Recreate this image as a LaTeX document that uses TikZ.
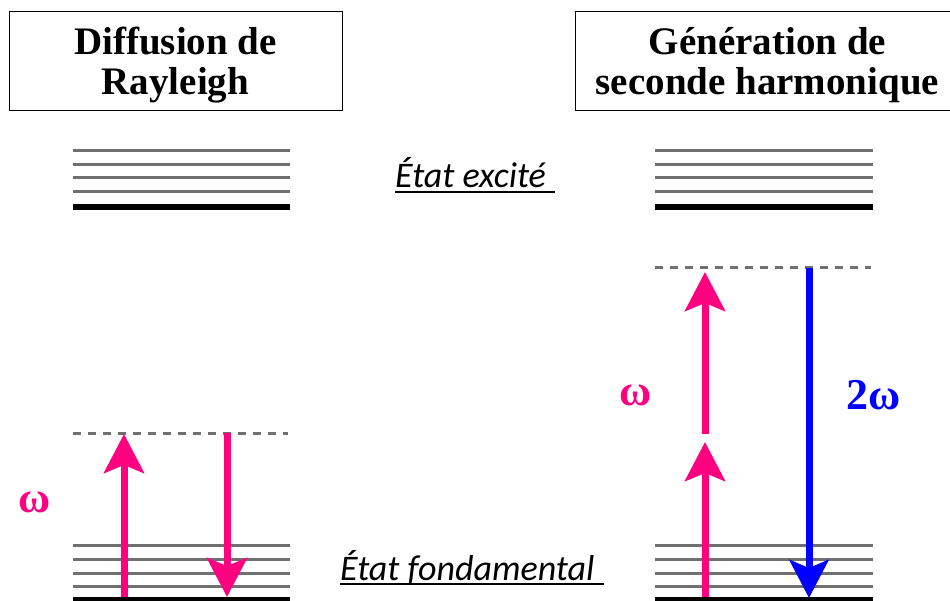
\documentclass[tikz,border=0pt]{standalone}
\usepackage{fontspec}
\setmainfont{Liberation Serif}
\newfontfamily\statefont{Carlito}
\usetikzlibrary{arrows.meta}

\definecolor{pinkw}{RGB}{255,0,128}
\definecolor{bluew}{RGB}{0,0,255}
\definecolor{levelgrey}{RGB}{112,112,112}

\begin{document}
\begin{tikzpicture}[
            x = 1pt, y = -1pt, % pixel grid, y pointing down
            > = {Stealth[length=39pt, width=40pt, inset=8pt]}, % arrow head style
            titlebox/.style = {draw = black, thick, inner sep = 0pt},
            titletext/.style = {inner sep = 0pt, align = center,
                font = \fontsize{39}{40}\selectfont\bfseries},
            statelabel/.style = {inner sep = 0pt, anchor = base west,
                font = \statefont\itshape\fontsize{36}{40}\selectfont},
            sublevel/.style = {draw = levelgrey, line width = 3pt},
            mainlevel/.style = {draw = black, line width = 5.5pt},
            virtual/.style = {draw = levelgrey, line width = 3pt,
                dash pattern = on 8pt off 7pt},
            photon/.style = {->, line width = 7pt},
            freq/.style = {font = \fontsize{44}{44}\selectfont\bfseries}
        ]

        \useasboundingbox (0,0) rectangle (950,601);
        \clip (0,0) rectangle (950,601);

        % titles
        \node[titlebox, minimum width = 333pt, minimum height = 99pt]
            (rayl) at (175.5,60.5) {};
        \node[titlebox, minimum width = 385pt, minimum height = 99pt]
            (shg) at (767.5,60.5) {};
        \node[titletext] (raylt) at ([yshift=-5pt]rayl.center) {Diffusion de\\Rayleigh};
        \node[titletext] (shgt) at ([yshift=-5pt]shg.center) {Génération de\\seconde harmonique};

        % energy levels
        \foreach \xa/\xb in {73/290, 655/873} {
            \foreach \y in {151,165,178,192}
                \draw[sublevel] (\xa,\y) -- (\xb,\y);
            \draw[mainlevel] (\xa,207) -- (\xb,207);
            \foreach \y in {545,559,573,586}
                \draw[sublevel] (\xa,\y) -- (\xb,\y);
            \draw[mainlevel] (\xa,600) -- (\xb,600);
        }
        \draw[virtual] (73,433) -- (288,433);
        \draw[virtual] (655,268) -- (871,268);

        % state labels
        \node[statelabel] (exc) at (395,188) {État excité};
        \node[statelabel] (fond) at (340,580) {État fondamental};
        \draw[line width = 2.5pt] ([yshift=-4pt]exc.base west) -- ([yshift=-4pt, xshift=9pt]exc.base east);
        \draw[line width = 2.5pt] ([yshift=-4pt]fond.base west) -- ([yshift=-4pt, xshift=9pt]fond.base east);

        % arrow ends
        \coordinate (r0) at (124,597);
        \coordinate (r1) at (124,434);
        \coordinate (r2) at (227,433);
        \coordinate (r3) at (227,597);
        \coordinate (s0) at (705,597);
        \coordinate (s1) at (705,442);
        \coordinate (s2) at (705,434);
        \coordinate (s3) at (705,272);
        \coordinate (s4) at (809,268);
        \coordinate (s5) at (809,598);

        \draw[photon, pinkw] (r0) -- (r1);
        \draw[photon, pinkw] (r2) -- (r3);
        \draw[photon, pinkw] (s0) -- (s1);
        \draw[photon, pinkw] (s2) -- (s3);
        \draw[photon, bluew, >={Stealth[length=38pt, width=39pt, inset=8pt]}] (s4) -- (s5);

        % frequencies
        \node[freq, text = pinkw] (w1) at (34.5,502) {ω};
        \node[freq, text = pinkw] (w2) at (636,395) {ω};
        \node[freq, text = bluew] (w3) at (874,395) {2ω};

  \end{tikzpicture}
\end{document}
